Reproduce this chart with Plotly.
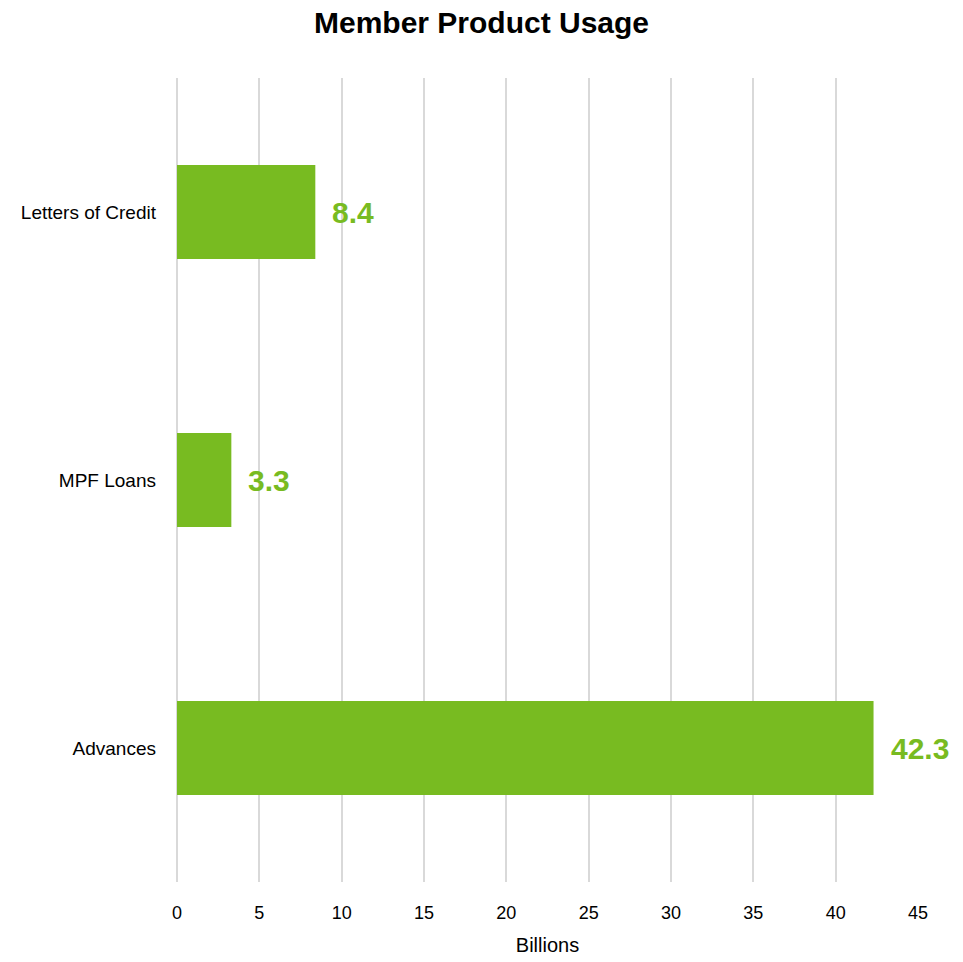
import plotly.graph_objects as go

categories = ["Advances", "MPF Loans", "Letters of Credit"]
values = [42.3, 3.3, 8.4]
value_labels = ["42.3", "3.3", "8.4"]
x_ticks = [0, 5, 10, 15, 20, 25, 30, 35, 40, 45]

GREEN = "#78BB21"
FONT = "Liberation Sans Narrow, Arial Narrow, Liberation Sans, Arial, sans-serif"

fig = go.Figure()
fig.add_trace(go.Bar(
    y=categories, x=values, orientation="h",
    marker=dict(color=GREEN, line=dict(width=0)),
    width=0.35,
    hoverinfo="skip",
))

for c, v, t in zip(categories, values, value_labels):
    fig.add_annotation(
        x=v, y=c, text=t, showarrow=False, xanchor="left", yanchor="middle",
        xshift=15, font=dict(family=FONT, size=30, color=GREEN, weight="bold"),
    )

fig.update_layout(
    width=963, height=962,
    margin=dict(l=177, r=45, t=78, b=80),
    paper_bgcolor="white", plot_bgcolor="white",
    showlegend=False,
    title=dict(text="Member Product Usage", x=0.5, xanchor="center", y=0.977, yanchor="middle",
               font=dict(family=FONT, size=30, color="black", weight="bold")),
    font=dict(family=FONT, color="black"),
)
fig.update_xaxes(
    range=[0, 45], tickvals=x_ticks, ticktext=[str(v) for v in x_ticks],
    showgrid=True, gridcolor="#D9D9D9", gridwidth=1.5,
    zeroline=True, zerolinecolor="#D9D9D9", zerolinewidth=1.5,
    showline=False, ticks="", ticklabelstandoff=18, automargin=False,
    tickfont=dict(family=FONT, size=18, color="black"),
    title=dict(text="Billions", font=dict(family=FONT, size=20, color="black"), standoff=15),
)
fig.update_yaxes(
    categoryorder="array", categoryarray=categories,
    showgrid=False, zeroline=False, showline=False, ticks="",
    ticklabelstandoff=20, automargin=False,
    tickfont=dict(family=FONT, size=19, color="black"),
)

fig.write_html("out.html")
